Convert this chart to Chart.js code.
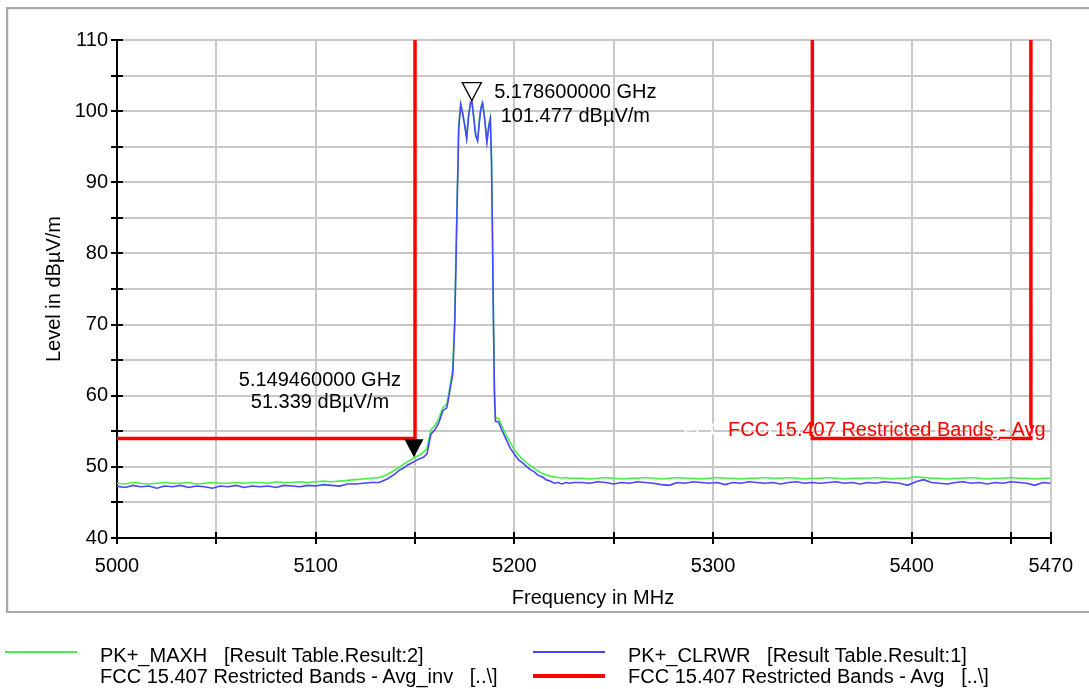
<!DOCTYPE html>
<html>
<head>
<meta charset="utf-8">
<script src="https://cdn.jsdelivr.net/npm/chart.js@4.4.1/dist/chart.umd.min.js"></script>
<style>
  body { margin: 0; background: #fff; }
  #frame {
    position: absolute; left: 6px; top: 7px; width: 1100px; height: 602px;
    border: 2px solid #a8a8a8; box-shadow: inset 1px 1px 0 #ececec; background: #fff;
  }
  #wrap { position: absolute; left: 0; top: 0; width: 1089px; height: 689px; }
  .leg-line { position: absolute; width: 72px; }
  .leg-text {
    position: absolute; font: 20px "Liberation Sans", Arial, sans-serif;
    line-height: 22px; white-space: pre; color: #000;
  }
</style>
</head>
<body>
<div id="frame"></div>
<div id="wrap"><canvas id="spectrum" width="1089" height="689"></canvas></div>

<div class="leg-line" style="left:5px; top:651px; height:2px; background:#46f046"></div>
<div class="leg-text" style="left:100px; top:644px">PK+_MAXH   [Result Table.Result:2]</div>
<div class="leg-line" style="left:533px; top:651px; height:2px; background:#4646ff"></div>
<div class="leg-text" style="left:628px; top:644px">PK+_CLRWR   [Result Table.Result:1]</div>
<div class="leg-line" style="left:5px; top:674px; height:4px; background:#ffffff"></div>
<div class="leg-text" style="left:100px; top:665px">FCC 15.407 Restricted Bands - Avg_inv   [..\]</div>
<div class="leg-line" style="left:533px; top:674px; height:4px; background:#ff0000"></div>
<div class="leg-text" style="left:628px; top:665px">FCC 15.407 Restricted Bands - Avg   [..\]</div>

<script>
// sweep frequencies (MHz)
const freqMHz = [
  5000, 5004, 5008, 5012, 5016, 5020, 5024, 5028, 5032, 5036,
  5040, 5044, 5048, 5052, 5056, 5060, 5064, 5068, 5072, 5076,
  5080, 5084, 5088, 5092, 5096, 5100, 5104, 5108, 5112, 5116,
  5120, 5124, 5128, 5132, 5136, 5140,
  5142, 5144, 5146, 5148, 5150, 5152, 5154, 5156, 5158, 5160, 5162, 5164, 5166,
  5167, 5168, 5169, 5170, 5171, 5172, 5173, 5174, 5175, 5176,
  5177, 5178, 5178.6, 5179.5, 5180.5, 5181.5, 5182.5, 5183.2, 5184, 5185,
  5186.2, 5187.2, 5187.9, 5188.5, 5189, 5189.5, 5190, 5190.5, 5192,
  5194, 5196, 5198, 5200, 5202, 5204, 5206, 5208, 5210, 5212,
  5214, 5216, 5218, 5220, 5222, 5224, 5226, 5228, 5230,
  5234, 5238, 5242, 5246, 5250, 5254, 5258, 5262, 5266, 5270,
  5274, 5278, 5282, 5286, 5290, 5294, 5298, 5302, 5306, 5310,
  5314, 5318, 5322, 5326, 5330, 5334, 5338, 5342, 5346, 5350,
  5354, 5358, 5362, 5366, 5370, 5374, 5378, 5382, 5386, 5390,
  5394, 5398, 5402, 5406, 5410, 5414, 5418, 5422, 5426, 5430,
  5434, 5438, 5442, 5446, 5450, 5454, 5458, 5462, 5466, 5470
];

// PK+_MAXH (green)
const maxhLevel = [
  47.7, 47.6, 47.8, 47.7, 47.6, 47.7, 47.8, 47.7, 47.7, 47.8,
  47.6, 47.7, 47.8, 47.7, 47.7, 47.8, 47.7, 47.8, 47.8, 47.7,
  47.9, 47.8, 47.8, 47.9, 47.8, 47.9, 48.0, 47.9, 48.0, 48.1,
  48.2, 48.3, 48.4, 48.5, 48.9, 49.6,
  49.9, 50.3, 50.7, 51.0, 51.4, 51.6, 52.0, 52.6, 55.2, 55.8, 56.8, 58.3, 58.8,
  60.3, 62.0, 63.8, 71.0, 85.0, 98.0, 101.1, 99.8, 98.2, 96.3,
  99.6, 101.3, 101.48, 99.4, 96.8, 96.0, 99.0, 100.6, 101.3, 99.2,
  95.8, 98.2, 99.1, 93.5, 83.0, 71.0, 61.0, 56.9, 56.8,
  55.6, 54.4, 53.4, 52.4, 51.7, 51.1, 50.6, 50.2, 49.8, 49.4,
  49.1, 48.9, 48.7, 48.6, 48.5, 48.4, 48.5, 48.4, 48.4,
  48.4, 48.3, 48.4, 48.5, 48.4, 48.3, 48.4, 48.4, 48.5, 48.4,
  48.3, 48.4, 48.5, 48.4, 48.4, 48.3, 48.4, 48.5, 48.4, 48.4,
  48.3, 48.4, 48.4, 48.5, 48.4, 48.4, 48.5, 48.4, 48.3, 48.4,
  48.4, 48.5, 48.4, 48.3, 48.4, 48.4, 48.4, 48.5, 48.4, 48.3,
  48.4, 48.4, 48.6, 48.5, 48.4, 48.4, 48.3, 48.4, 48.4, 48.5,
  48.4, 48.3, 48.4, 48.4, 48.5, 48.4, 48.4, 48.3, 48.4, 48.4
];

// PK+_CLRWR (blue)
const clrwrLevel = [
  47.3, 47.1, 47.4, 47.2, 47.3, 47.0, 47.3, 47.2, 47.4, 47.1,
  47.3, 47.2, 47.0, 47.3, 47.2, 47.4, 47.1, 47.3, 47.2, 47.3,
  47.1, 47.4, 47.3, 47.2, 47.4, 47.3, 47.5, 47.4, 47.3, 47.6,
  47.6, 47.7, 47.8, 47.8, 48.3, 49.0,
  49.5, 49.8, 50.2, 50.5, 50.8, 51.1, 51.3, 51.8, 54.6, 55.2, 56.2, 57.9, 58.3,
  59.8, 61.5, 63.0, 70.0, 84.0, 97.5, 100.9, 99.6, 98.0, 96.1,
  99.4, 101.2, 101.45, 99.2, 96.6, 95.8, 98.8, 100.4, 101.1, 99.0,
  95.6, 98.0, 98.9, 93.0, 82.0, 70.0, 60.0, 56.4, 56.3,
  55.0, 53.8, 52.6, 51.8, 51.0, 50.6, 50.1, 49.6, 49.3, 48.8,
  48.6, 48.2, 48.0, 47.7, 47.8, 47.6, 47.8, 47.7, 47.8,
  47.8, 47.7, 47.9, 47.8, 47.6, 47.8, 47.7, 47.9, 47.8, 47.7,
  47.5, 47.4, 47.8, 47.7, 47.9, 47.8, 47.7, 47.8, 47.5, 47.8,
  47.7, 47.9, 47.8, 47.7, 47.8, 47.6, 47.8, 47.9, 47.7, 47.8,
  47.7, 47.8, 47.9, 47.7, 47.8, 47.6, 47.8, 47.7, 47.9, 47.8,
  47.7, 47.4, 47.9, 48.2, 47.8, 47.7, 47.6, 47.8, 47.9, 47.7,
  47.8, 47.6, 47.8, 47.7, 47.9, 47.8, 47.7, 47.4, 47.8, 47.7
];

// FCC 15.407 restricted bands - Avg limit (null = gap)
const limitFreq = [5000, 5150, 5150, 5250, 5350, 5350, 5460, 5460];
const limitLevel = [54, 54, 110, null, 110, 54, 54, 110];

// markers
const markerFreq = [5178.6, 5149.46];
const markerLevel = [101.477, 51.339];
const markerText = [
  ['5.178600000 GHz', '101.477 dBµV/m'],
  ['5.149460000 GHz', '51.339 dBµV/m']
];

// axis ticks
const xTickValues = [5000, 5050, 5100, 5150, 5200, 5250, 5300, 5350, 5400, 5450, 5470];
const xLabelValues = [5000, 5100, 5200, 5300, 5400, 5470];
const yLabelValues = [40, 50, 60, 70, 80, 90, 100, 110];

const FONT = '"Liberation Sans", Arial, sans-serif';

if (maxhLevel.length !== freqMHz.length || clrwrLevel.length !== freqMHz.length) {
  console.warn('length mismatch', freqMHz.length, maxhLevel.length, clrwrLevel.length);
}

const toPoints = (xs, ys) => xs.map((x, i) => ({ x: x, y: ys[i] }));

const extrasPlugin = {
  id: 'extras',
  afterDatasetsDraw(chart) {
    const { ctx, chartArea, scales: { x, y } } = chart;
    ctx.save();

    // tick marks crossing the axes
    ctx.strokeStyle = '#000';
    ctx.lineWidth = 2;
    ctx.beginPath();
    for (let v = 40; v <= 110; v += 5) {
      const py = Math.round(y.getPixelForValue(v));
      ctx.moveTo(chartArea.left - 6, py);
      ctx.lineTo(chartArea.left + 6, py);
    }
    xTickValues.forEach(v => {
      const px = Math.round(x.getPixelForValue(v));
      ctx.moveTo(px, chartArea.bottom - 6);
      ctx.lineTo(px, chartArea.bottom + 6);
    });
    ctx.stroke();

    // markers
    ctx.font = '20px ' + FONT;
    ctx.textBaseline = 'alphabetic';
    ctx.textAlign = 'center';
    markerFreq.forEach((f, i) => {
      const px = x.getPixelForValue(f);
      const py = y.getPixelForValue(markerLevel[i]);
      ctx.beginPath();
      ctx.moveTo(px, py);
      ctx.lineTo(px - 9.5, py - 18);
      ctx.lineTo(px + 9.5, py - 18);
      ctx.closePath();
      ctx.lineWidth = 1.3;
      ctx.strokeStyle = '#000';
      if (i === 1) {
        ctx.fillStyle = '#000';
        ctx.fill();
      } else {
        ctx.fillStyle = '#fff';
        ctx.fill();
        ctx.stroke();
      }
      ctx.fillStyle = '#000';
      if (i === 0) {
        ctx.fillText(markerText[i][0], px + 103.5, py - 3);
        ctx.fillText(markerText[i][1], px + 103.5, py + 21);
      } else {
        ctx.fillText(markerText[i][0], px - 94, py - 71);
        ctx.fillText(markerText[i][1], px - 94, py - 49);
      }
    });

    // limit line labels
    const ly = y.getPixelForValue(54) - 2;
    ctx.textAlign = 'left';
    ctx.fillStyle = '#fff';
    ctx.fillText('FCC 15.407 Restricted Bands - Avg_inv', 683, ly);
    ctx.fillStyle = '#ff0000';
    ctx.fillText('FCC 15.407 Restricted Bands - Avg', 728, ly);

    // axis titles
    ctx.fillStyle = '#000';
    ctx.textAlign = 'center';
    ctx.textBaseline = 'middle';
    ctx.fillText('Frequency in MHz', 593, 598);
    ctx.translate(54, (chartArea.top + chartArea.bottom) / 2);
    ctx.rotate(-Math.PI / 2);
    ctx.fillText('Level in dBµV/m', 0, 0);
    ctx.restore();
  }
};

new Chart(document.getElementById('spectrum'), {
  type: 'line',
  data: {
    datasets: [
      {
        label: 'PK+_CLRWR',
        data: toPoints(freqMHz, clrwrLevel),
        borderColor: '#4646ff',
        borderWidth: 1.6,
        pointRadius: 0,
        tension: 0
      },
      {
        label: 'PK+_MAXH',
        data: toPoints(freqMHz, maxhLevel),
        borderColor: '#46f046',
        borderWidth: 1.6,
        pointRadius: 0,
        tension: 0
      },
      {
        label: 'FCC 15.407 Restricted Bands - Avg',
        data: toPoints(limitFreq, limitLevel),
        borderColor: '#ff0000',
        borderWidth: 3.5,
        pointRadius: 0,
        spanGaps: false,
        tension: 0
      }
    ]
  },
  options: {
    responsive: false,
    animation: false,
    events: [],
    layout: {
      padding: { left: 0, top: 40, right: 38, bottom: 91 }
    },
    scales: {
      x: {
        type: 'linear',
        min: 5000,
        max: 5470,
        afterBuildTicks: (scale) => {
          scale.ticks = xTickValues.map(v => ({ value: v }));
        },
        afterFit: (scale) => { scale.height = 60; },
        grid: { color: '#c8c8c8', lineWidth: 2, drawTicks: false },
        border: { color: '#000', width: 2 },
        ticks: {
          autoSkip: false,
          maxRotation: 0,
          minRotation: 0,
          padding: 16,
          color: '#000',
          font: { size: 20, family: FONT },
          callback: (v) => xLabelValues.includes(v) ? String(v) : ''
        }
      },
      y: {
        min: 40,
        max: 110,
        afterFit: (scale) => { scale.width = 117; },
        grid: { color: '#c8c8c8', lineWidth: 2, drawTicks: false },
        border: { color: '#000', width: 2 },
        ticks: {
          stepSize: 5,
          padding: 9,
          color: '#000',
          font: { size: 20, family: FONT },
          callback: (v) => yLabelValues.includes(v) ? String(v) : ''
        }
      }
    },
    plugins: {
      legend: { display: false },
      tooltip: { enabled: false }
    }
  },
  plugins: [extrasPlugin]
});
</script>
</body>
</html>
